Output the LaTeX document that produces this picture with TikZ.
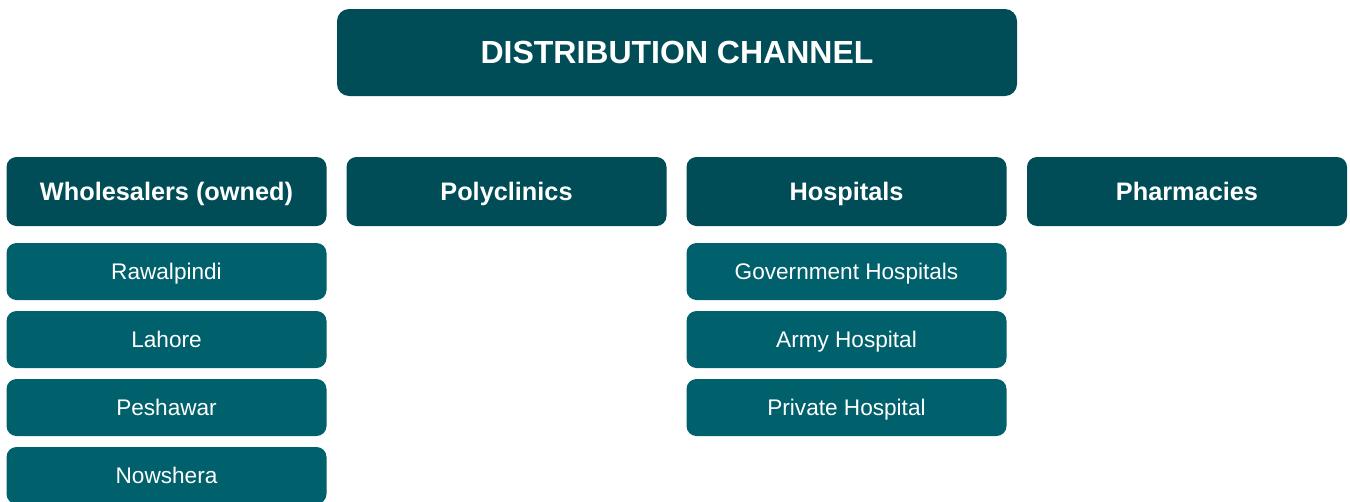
\documentclass[tikz,border=0pt]{standalone}
\usepackage{fontspec}
\setmainfont{Liberation Sans}
\definecolor{dark}{HTML}{004D57}
\definecolor{mid}{HTML}{00606C}
\begin{document}
\begin{tikzpicture}[x=1pt,y=-1pt,
  common/.style={rectangle,text=white,inner sep=0pt,text depth=0pt},
  titlebox/.style={common,rounded corners=12pt,fill=dark,font=\bfseries\fontsize{32}{36}\selectfont,text height=22.9pt,minimum width=680pt,minimum height=87pt},
  headbox/.style={common,rounded corners=10pt,fill=dark,font=\bfseries\fontsize{25.3}{29}\selectfont,text height=18.1pt,minimum width=320pt,minimum height=69pt},
  subbox/.style={common,rounded corners=10pt,fill=mid,font=\fontsize{22.6}{26}\selectfont,text height=16.2pt,minimum width=320pt,minimum height=57pt}]
\useasboundingbox (0,0) rectangle (1350,501);
\clip (0,0) rectangle (1350,501);
\node[titlebox] (title) at (677,52.5) {DISTRIBUTION CHANNEL};
\node[headbox] (whole) at (166.5,191.5) {Wholesalers (owned)};
\node[headbox] (poly) at (506.5,191.5) {Polyclinics};
\node[headbox] (hosp) at (846.5,191.5) {Hospitals};
\node[headbox] (pharm) at (1187,191.5) {Pharmacies};
\node[subbox] (rwp) at (166.5,271.5) {Rawalpindi};
\node[subbox] (lhr) at (166.5,339.5) {Lahore};
\node[subbox] (psh) at (166.5,407.5) {Peshawar};
\node[subbox] (nsh) at (166.5,475.5) {Nowshera};
\node[subbox] (gov) at (846.5,271.5) {Government Hospitals};
\node[subbox] (army) at (846.5,339.5) {Army Hospital};
\node[subbox] (priv) at (846.5,407.5) {Private Hospital};
\end{tikzpicture}
\end{document}
